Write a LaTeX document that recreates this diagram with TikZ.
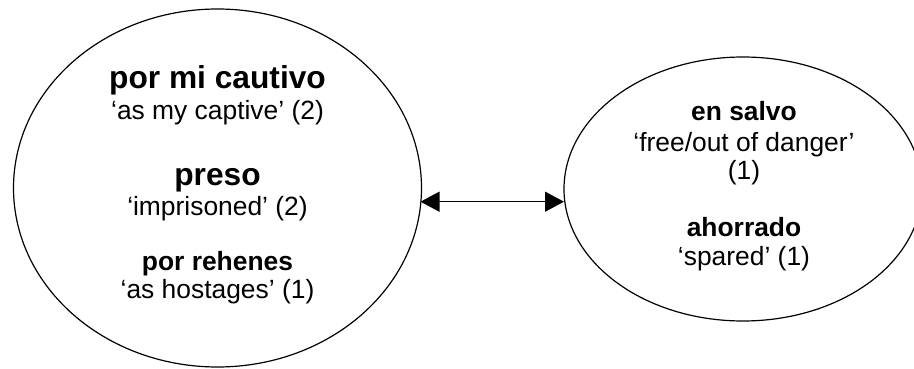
\documentclass[tikz,border=0pt]{standalone}
\usepackage{fontspec}
\setmainfont{Liberation Sans}
\usetikzlibrary{shapes.geometric,arrows.meta}
\begin{document}
\begin{tikzpicture}[x=1pt,y=-1pt,
  bubble/.style={ellipse,draw,line width=1.2pt,inner sep=0pt,outer sep=0pt},
  bighead/.style={anchor=base,inner sep=0pt,font=\fontsize{31.7}{36}\selectfont\bfseries},
  head/.style={anchor=base,inner sep=0pt,font=\fontsize{26.4}{30}\selectfont\bfseries},
  gloss/.style={anchor=base,inner sep=0pt,font=\fontsize{26.4}{30}\selectfont},
  link/.style={line width=1.2pt,{Triangle[length=19pt,width=20pt]}-{Triangle[length=19pt,width=20pt]}}]
\useasboundingbox (0,0) rectangle (914,369);
\clip (0,0) rectangle (914,369);
\node[bubble,minimum width=408pt,minimum height=358pt] (L) at (217.5,188) {};
\node[bubble,minimum width=358pt,minimum height=264pt] (R) at (743,189) {};
% left texts
\node[bighead] (l1) at (217.5,88.3) {por mi cautivo};
\node[gloss] (l2) at (217.5,120) {‘as my captive’ (2)};
\node[bighead] (l3) at (217.5,185) {preso};
\node[gloss] (l4) at (217.5,215) {‘imprisoned’ (2)};
\node[head] (l5) at (217.5,270) {por rehenes};
\node[gloss] (l6) at (217.5,298) {‘as hostages’ (1)};
% right texts
\node[head] (r1) at (744,120.7) {en salvo};
\node[gloss] (r2) at (744,151.7) {‘free/out of danger’};
\node[gloss] (r3) at (744,179.5) {(1)};
\node[head] (r4) at (744,236.7) {ahorrado};
\node[gloss] (r5) at (744,265.5) {‘spared’ (1)};
% connector
\coordinate (lv) at (217.5,201.7);
\draw[link] (L.east |- lv) ++(-1,0) -- (R.west |- lv);
\end{tikzpicture}
\end{document}
